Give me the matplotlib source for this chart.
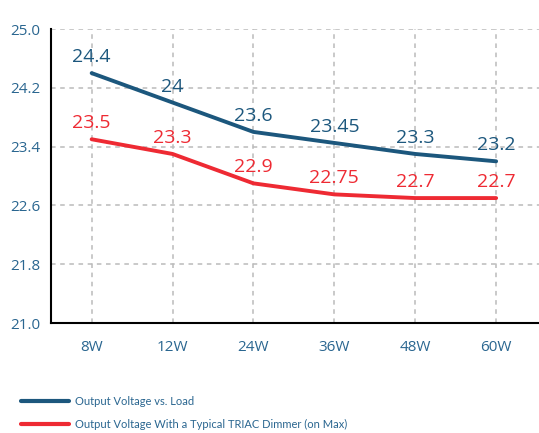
import numpy as np
import matplotlib.pyplot as plt

# values
loads = ['8W', '12W', '24W', '36W', '48W', '60W']
vs_load = [24.4, 24.0, 23.6, 23.45, 23.3, 23.2]
triac = [23.5, 23.3, 22.9, 22.75, 22.7, 22.7]
vs_labels = ['24.4', '24', '23.6', '23.45', '23.3', '23.2']
triac_labels = ['23.5', '23.3', '22.9', '22.75', '22.7', '22.7']
yticks = [21.0, 21.8, 22.6, 23.4, 24.2, 25.0]

blue = '#1c577d'
red = '#ee2a33'
tick_col = '#2a6690'

plt.rcParams['font.family'] = ['Open Sans', 'DejaVu Sans']

fig = plt.figure(figsize=(5.39, 4.33), dpi=100)
ax = fig.add_axes([0.095, 0.254, 0.905, 0.679])

x = np.arange(len(loads))
ax.plot(x, vs_load, color=blue, lw=2.8, solid_capstyle='round',
        label='Output Voltage vs. Load')
ax.plot(x, triac, color=red, lw=2.8, solid_capstyle='round',
        label='Output Voltage With a Typical TRIAC Dimmer (on Max)')

for xi, v, s in zip(x, vs_load, vs_labels):
    ax.annotate(s, (xi, v), xytext=(0, 5), textcoords='offset points',
                ha='center', va='bottom', fontsize=14, color=blue)
for xi, v, s in zip(x, triac, triac_labels):
    ax.annotate(s, (xi, v), xytext=(0, 5), textcoords='offset points',
                ha='center', va='bottom', fontsize=14, color=red)

ax.set_xlim(-0.5, 5.53)
ax.set_ylim(21.0, 25.0)
ax.set_yticks(yticks)
ax.set_yticklabels(['%.1f' % t for t in yticks])
ax.set_xticks(x)
ax.set_xticklabels(loads)
ax.tick_params(length=0, labelsize=11, labelcolor=tick_col)
ax.tick_params(axis='x', pad=12)
ax.tick_params(axis='y', pad=8)

ax.grid(True, color='#bbbbbb', linestyle=(0, (3, 3)), lw=1.1)
ax.set_axisbelow(True)
for s in ['top', 'right']:
    ax.spines[s].set_visible(False)
for s in ['left', 'bottom']:
    ax.spines[s].set_linewidth(1.5)
    ax.spines[s].set_color('black')

leg = fig.legend(loc='lower left', bbox_to_anchor=(0.02, -0.017), frameon=False,
                 prop={'family': ['Lato', 'DejaVu Sans'], 'size': 8},
                 handlelength=4.3, labelspacing=1.15, handletextpad=0.6)
for t in leg.get_texts():
    t.set_color(tick_col)
for h in leg.get_lines():
    h.set_linewidth(3)

fig.savefig('out.png', dpi=100)
